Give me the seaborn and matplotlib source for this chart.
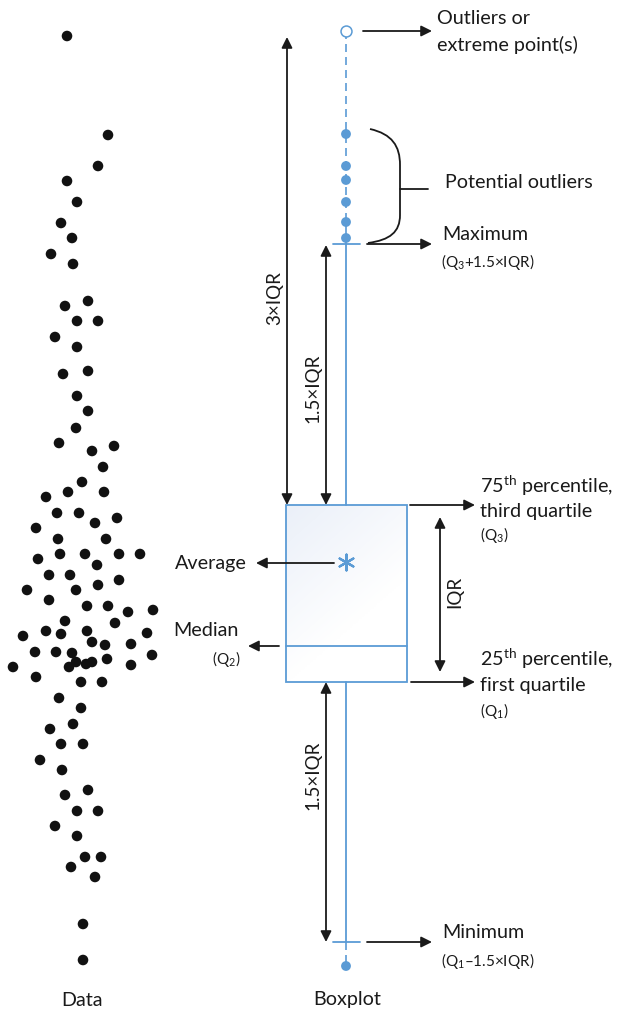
import numpy as np
import pandas as pd
import matplotlib
matplotlib.use("Agg")
import matplotlib.pyplot as plt
import seaborn as sns
from matplotlib.path import Path
from matplotlib.patches import PathPatch, Rectangle

# ---------------- data (y grows downward) ----------------
data_x = [67, 108, 98, 67, 77, 61, 72, 51, 73, 65, 88, 77, 98, 55, 77, 63, 88, 77, 88, 76,
          59, 92, 114, 103, 82, 46, 68, 104, 57, 79, 95, 117, 36, 58, 106, 38, 60, 85, 119, 140,
          97, 49, 70, 98, 119, 27, 76, 49, 87, 108, 128, 153, 65, 115, 23, 46, 61, 87, 147, 92,
          105, 131, 35, 56, 72, 152, 76, 92, 107, 86, 69, 131, 13, 36, 81, 102, 59, 81, 73, 50,
          61, 83, 40, 62, 65, 88, 77, 98, 55, 77, 85, 101, 71, 95, 83, 83]
data_y = [36, 135, 166, 181, 202, 223, 238, 254, 264, 306, 301, 321, 321, 337, 347, 374, 371, 396, 411, 428,
          443, 451, 446, 467, 482, 497, 492, 492, 513, 513, 523, 518, 528, 539, 539, 559, 554, 554, 554, 554,
          565, 575, 575, 585, 580, 590, 590, 600, 606, 606, 612, 610, 621, 623, 636, 631, 634, 631, 633, 642,
          645, 644, 652, 652, 653, 655, 662, 662, 659, 664, 667, 665, 667, 677, 682, 682, 698, 708, 724, 729,
          744, 744, 760, 770, 795, 790, 811, 811, 826, 836, 857, 857, 867, 877, 924, 960]

box_center = 346
box_left, box_right = 286, 407
extreme_point = [31]
potential_outliers = [134, 166, 180, 202, 222, 238]
whisker_high = 244
q3 = 505
mean_value = 562
median = 646
q1 = 682
whisker_low = 942
low_points = [966]

BLUE = "#5b9bd5"
INK = "#1a1a1a"

sns.set_theme(style="white")
plt.rcParams['font.family'] = ['Lato', 'DejaVu Sans']
plt.rcParams['mathtext.fontset'] = 'custom'
plt.rcParams['mathtext.rm'] = 'Lato'
plt.rcParams['mathtext.it'] = 'Lato:italic'
plt.rcParams['mathtext.bf'] = 'Lato:bold'

fig = plt.figure(figsize=(6.2, 10.09), dpi=100)
ax = fig.add_axes([0, 0, 1, 1])
ax.set_xlim(0, 620)
ax.set_ylim(1009, 0)
ax.axis('off')

# ---------------- raw data swarm ----------------
df = pd.DataFrame({"x": data_x, "y": data_y})
sns.scatterplot(data=df, x="x", y="y", ax=ax, color="#111111", s=58,
                edgecolor="none", legend=False, zorder=3)

# ---------------- boxplot ----------------
h, w = 100, 100
yy, xx = np.mgrid[0:h, 0:w]
t = np.clip(1 - (xx / w * 0.6 + yy / h * 1.0), 0, 1)
top = np.array([0.92, 0.94, 0.975])
white = np.array([1.0, 1.0, 1.0])
img = white[None, None, :] * (1 - t[..., None]) + top[None, None, :] * t[..., None]
ax.imshow(img, extent=(box_left, box_right, q1, q3), aspect='auto', zorder=1, interpolation='bilinear')
ax.add_patch(Rectangle((box_left, q3), box_right - box_left, q1 - q3, fill=False,
                       edgecolor=BLUE, lw=1.3, zorder=2))
ax.plot([box_left, box_right], [median, median], color=BLUE, lw=1.3, zorder=2)

# whiskers
ax.plot([box_center, box_center], [whisker_high, q3], color=BLUE, lw=1.3, zorder=2)
ax.plot([box_center, box_center], [q1, whisker_low], color=BLUE, lw=1.3, zorder=2)
ax.plot([box_center, box_center], [extreme_point[0], whisker_high], color=BLUE, lw=1.2,
        ls=(0, (4.8, 3)), zorder=2)
ax.plot([box_center, box_center], [whisker_low, low_points[0]], color=BLUE, lw=1.2,
        ls=(0, (4.8, 3)), zorder=2)
# caps
ax.plot([box_center - 13, box_center + 14], [whisker_high, whisker_high], color=BLUE, lw=1.3, zorder=2)
ax.plot([box_center - 13, box_center + 14], [whisker_low, whisker_low], color=BLUE, lw=1.3, zorder=2)

pts = pd.DataFrame({"x": [box_center] * (len(potential_outliers) + len(low_points)),
                    "y": potential_outliers + low_points})
sns.scatterplot(data=pts, x="x", y="y", ax=ax, color=BLUE, s=50, edgecolor="none",
                legend=False, zorder=4)
ext = pd.DataFrame({"x": [box_center], "y": extreme_point})
sns.scatterplot(data=ext, x="x", y="y", ax=ax, facecolor="white", edgecolor=BLUE, s=62,
                linewidth=1.1, legend=False, zorder=4)
avg = pd.DataFrame({"x": [box_center], "y": [mean_value]})
sns.scatterplot(data=avg, x="x", y="y", ax=ax, marker=(6, 2, 0), color=BLUE, s=130,
                linewidth=1.6, legend=False, zorder=4)
ax.set_xlabel("")
ax.set_ylabel("")

# ---------------- annotations ----------------
def arrow(x1, y1, x2, y2, style='-|>'):
    ax.annotate("", xy=(x2, y2), xytext=(x1, y1),
                arrowprops=dict(arrowstyle=style, color=INK, lw=1.3,
                                mutation_scale=16, shrinkA=0, shrinkB=0), zorder=5)

arrow(287, q3, 287, 37, '<|-|>')
arrow(326, q3, 326, whisker_high + 1, '<|-|>')
arrow(326, q1, 326, whisker_low, '<|-|>')
arrow(440, 672, 440, 517, '<|-|>')
arrow(363, extreme_point[0], 432, extreme_point[0])
arrow(367, whisker_high, 432, whisker_high)
arrow(410, q3, 475, q3)
arrow(411, q1, 475, q1)
arrow(334, mean_value + 1, 256, mean_value + 1)
arrow(279, median, 248, median)
arrow(367, whisker_low, 432, whisker_low)

# brace
verts = [(370, 129), (392, 134), (400, 146), (400, 165), (400, 215),
         (400, 232), (390, 240), (368, 243)]
codes = [Path.MOVETO, Path.CURVE4, Path.CURVE4, Path.CURVE4, Path.LINETO,
         Path.CURVE4, Path.CURVE4, Path.CURVE4]
ax.add_patch(PathPatch(Path(verts, codes), fill=False, edgecolor=INK, lw=1.3, zorder=5))
ax.plot([400, 428], [189, 189], color=INK, lw=1.3, zorder=5)

FS = 14.2
SFS = 11
def txt(x, y, s, size=FS, ha='left'):
    ax.text(x, y, s, fontsize=size, ha=ha, va='center', color=INK, zorder=6)

txt(437, 18, "Outliers or")
txt(437, 45, "extreme point(s)")
txt(445, 182, "Potential outliers")
txt(442, 234, "Maximum")
txt(441, 262, r"(Q$_3$+1.5×IQR)", SFS)
txt(480, 486, r"75$^{\mathrm{th}}$ percentile,")
txt(480, 511, "third quartile")
txt(480, 535, r"(Q$_3$)", SFS)
txt(480, 659, r"25$^{\mathrm{th}}$ percentile,")
txt(480, 685, "first quartile")
txt(480, 711, r"(Q$_1$)", SFS)
txt(247, 563, "Average", ha='right')
txt(239, 631, "Median", ha='right')
txt(240, 659, r"(Q$_2$)", SFS, ha='right')
txt(442, 932, "Minimum")
txt(441, 961, r"(Q$_1$–1.5×IQR)", SFS)
txt(82, 1000, "Data", ha='center')
txt(347, 1000, "Boxplot", ha='center')

def vtxt(x, y, s):
    ax.text(x, y, s, fontsize=13.5, ha='center', va='center', color=INK, rotation=90, zorder=6)

vtxt(275, 298, "3×IQR")
vtxt(313, 388, "1.5×IQR")
vtxt(313, 775, "1.5×IQR")
vtxt(455, 592, "IQR")

fig.savefig("out.png", dpi=100)
